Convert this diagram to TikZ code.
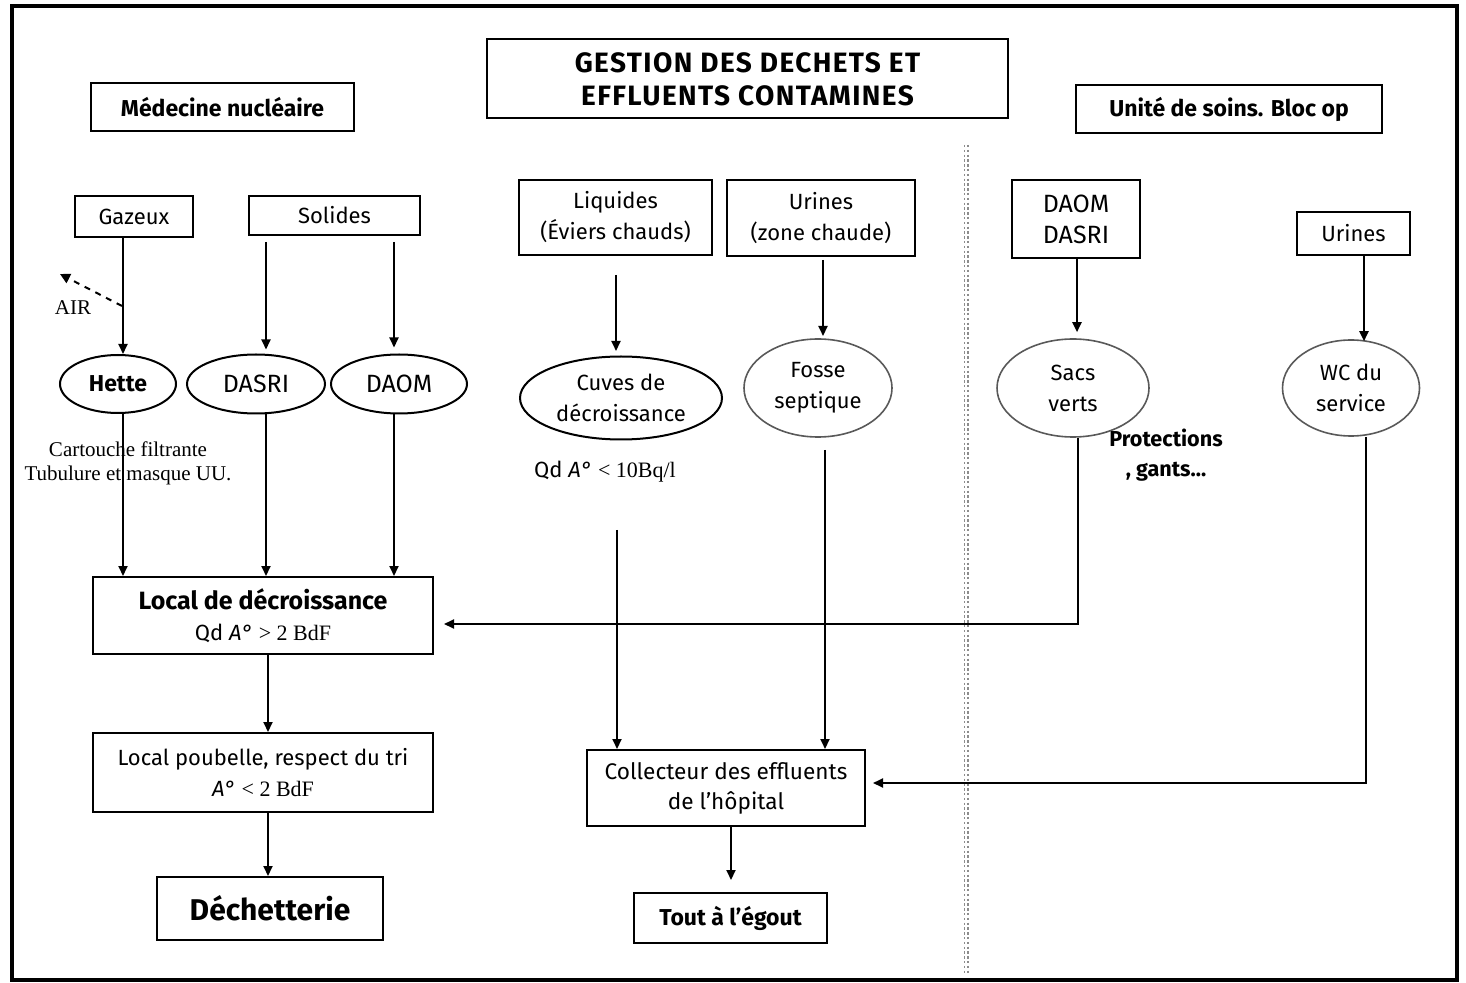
\documentclass[tikz,border=0pt]{standalone}
\usepackage{fontspec}
\setmainfont{Fira Sans}
\newfontfamily\serif{Liberation Serif}
\newfontfamily\titlefont[LetterSpace=5]{Fira Sans}
\usetikzlibrary{arrows.meta,shapes.geometric}
\begin{document}
\begin{tikzpicture}[x=0.5pt,y=-0.5pt,
 box/.style={draw, line width=1pt, inner sep=0pt, align=center},
 oval/.style={draw, ellipse, line width=1pt, inner sep=0pt, align=center},
 grayoval/.style={oval, draw=black!65, line width=0.8pt},
 arr/.style={line width=1pt, -{Triangle[length=5pt,width=4.5pt]}},
 txt/.style={font=\fontsize{11}{15.5}\selectfont},
 btxt/.style={font=\fontsize{11.5}{15.5}\selectfont\bfseries},
 caps/.style={font=\fontsize{12.5}{15.5}\selectfont},
 sep/.style={draw=black!45, line width=0.6pt, dash pattern=on 1.2pt off 1.2pt}]
\useasboundingbox (0,0) rectangle (1466,983);
\draw[line width=1.6pt] (12,6) rectangle (1457,980);

% separator
\draw[sep] (964.5,145) -- (964.5,975);
\draw[sep] (968,145) -- (968,975);

% header boxes
\node[box, minimum width=260.5pt, minimum height=39.5pt, font=\fontsize{14}{16.5}\selectfont\titlefont\bfseries] (title) at (747.5,79) {GESTION DES DECHETS ET\\EFFLUENTS CONTAMINES};
\node[box, minimum width=131.5pt, minimum height=24pt, btxt] (med) at (222.5,107) {Médecine nucléaire};
\node[box, minimum width=153pt, minimum height=24pt, btxt] (unite) at (1229,109) {Unité de soins. Bloc op};

% source boxes
\node[box, minimum width=59pt, minimum height=20.5pt, txt] (gaz) at (134,216.5) {Gazeux};
\node[box, minimum width=85.5pt, minimum height=19.5pt, txt] (sol) at (334.5,215.5) {Solides};
\node[box, minimum width=96.5pt, minimum height=37.5pt, txt] (liq) at (615.5,217.5) {Liquides\\(Éviers chauds)};
\node[box, minimum width=94pt, minimum height=38pt, txt] (urc) at (821,218) {Urines\\(zone chaude)};
\node[box, minimum width=64pt, minimum height=39pt, caps] (dd) at (1076,219) {DAOM\\DASRI};
\node[box, minimum width=56.5pt, minimum height=21.5pt, txt] (urs) at (1353.5,233.5) {Urines};

% ellipses
\node[oval, btxt, minimum width=58pt, minimum height=29pt] (hette) at (118,384) {Hette};
\node[oval, caps, minimum width=69pt, minimum height=29.5pt] (dasri) at (256,384) {DASRI};
\node[oval, caps, minimum width=68pt, minimum height=29.5pt] (daom) at (399,384) {DAOM};
\node[oval, txt, minimum width=101pt, minimum height=41.5pt] (cuves) at (621,398) {Cuves de\\décroissance};
\node[grayoval, txt, minimum width=74pt, minimum height=49pt] (fosse) at (818,388) {Fosse\\septique};
\node[grayoval, txt, minimum width=76pt, minimum height=49pt] (sacs) at (1073,388) {Sacs\\verts};
\node[grayoval, txt, minimum width=68.5pt, minimum height=48pt] (wc) at (1351,388) {WC du\\service};

% lower boxes
\node[box, minimum width=170pt, minimum height=38.5pt, font=\fontsize{11}{15.5}\selectfont] (local) at (263,615.5) {{\fontsize{12.5}{15.5}\selectfont\bfseries Local de décroissance}\\Qd \textit{A°} {\serif > 2 BdF}};
\node[box, minimum width=170pt, minimum height=39.5pt, txt] (poub) at (263,772.5) {Local poubelle, respect du tri\\\textit{A°} {\serif < 2 BdF}};
\node[box, minimum width=113pt, minimum height=31.5pt, font=\fontsize{15}{16}\selectfont\bfseries] (dech) at (270,908.5) {Déchetterie};
\node[box, minimum width=139pt, minimum height=38pt, font=\fontsize{11.3}{15}\selectfont] (coll) at (726,788) {Collecteur des effluents\\de l'hôpital};
\node[box, minimum width=96.5pt, minimum height=25pt, btxt] (tout) at (730.5,918) {Tout à l'égout};

% free texts
\node[align=center, inner sep=0pt, font=\fontsize{10.5}{12}\selectfont\serif] (cart) at (128,463) {Cartouche filtrante\\Tubulure et masque UU.};
\node[inner sep=0pt, font=\fontsize{10.5}{12}\selectfont\serif] (air) at (73,308) {AIR};
\node[inner sep=0pt, font=\fontsize{11}{12}\selectfont] (qd) at (605,472) {Qd \textit{A°} {\serif < 10Bq/l}};
\node[align=center, inner sep=0pt, font=\fontsize{10.8}{15}\selectfont\bfseries] (prot) at (1166,455) {Protections\\, gants...};

% coordinates
\coordinate (xg) at (123,0);
\coordinate (xd1) at (266,0);
\coordinate (xd2) at (394,0);
\coordinate (airstart) at (122,306);
\coordinate (airend) at (60,274);
\coordinate (liqstart) at (616,275);
\coordinate (liqend) at (616,351);
\coordinate (urcstart) at (823,260);
\coordinate (urcend) at (823,336);
\coordinate (cuvstart) at (617,530);
\coordinate (fosstart) at (825,450);
\coordinate (sacsturn) at (1078,624);
\coordinate (wcturn) at (1366,783);
\coordinate (ddx) at (1077,0);
\coordinate (urx) at (1364,0);
\coordinate (lx) at (268,0);
\coordinate (cx) at (731,0);
\coordinate (toutend) at (731,880);

% connectors left
\draw[arr] (gaz.south -| xg) -- (hette.north -| xg);
\draw[line width=1pt, dashed, -{Triangle[length=5pt,width=5pt]}] (airstart) -- (airend);
\draw[arr] ([yshift=-3pt]sol.south -| xd1) -- ([yshift=2pt]dasri.north -| xd1);
\draw[arr] ([yshift=-3pt]sol.south -| xd2) -- ([yshift=3pt]daom.north -| xd2);
\draw[arr] (hette.south -| xg) -- (local.north -| xg);
\draw[arr] (dasri.south -| xd1) -- (local.north -| xd1);
\draw[arr] (daom.south -| xd2) -- (local.north -| xd2);
\draw[arr] (local.south -| lx) -- (poub.north -| lx);
\draw[arr] (poub.south -| lx) -- (dech.north -| lx);

% connectors middle
\draw[arr] (liqstart) -- (liqend);
\draw[arr] (urcstart) -- (urcend);
\draw[arr] (cuvstart) -- (coll.north -| cuvstart);
\draw[arr] (fosstart) -- (coll.north -| fosstart);
\draw[arr] (coll.south -| cx) -- (toutend);

% connectors right
\draw[arr] (dd.south -| ddx) -- ([yshift=3pt]sacs.north -| ddx);
\draw[arr] (urs.south -| urx) -- ([yshift=-1pt]wc.north -| urx);
\draw[arr] (sacs.south -| sacsturn) -- (sacsturn) -- ([xshift=5pt]local.east |- sacsturn);
\draw[arr] (wc.south -| wcturn) -- (wcturn) -- ([xshift=3.5pt]coll.east |- wcturn);
\end{tikzpicture}
\end{document}
